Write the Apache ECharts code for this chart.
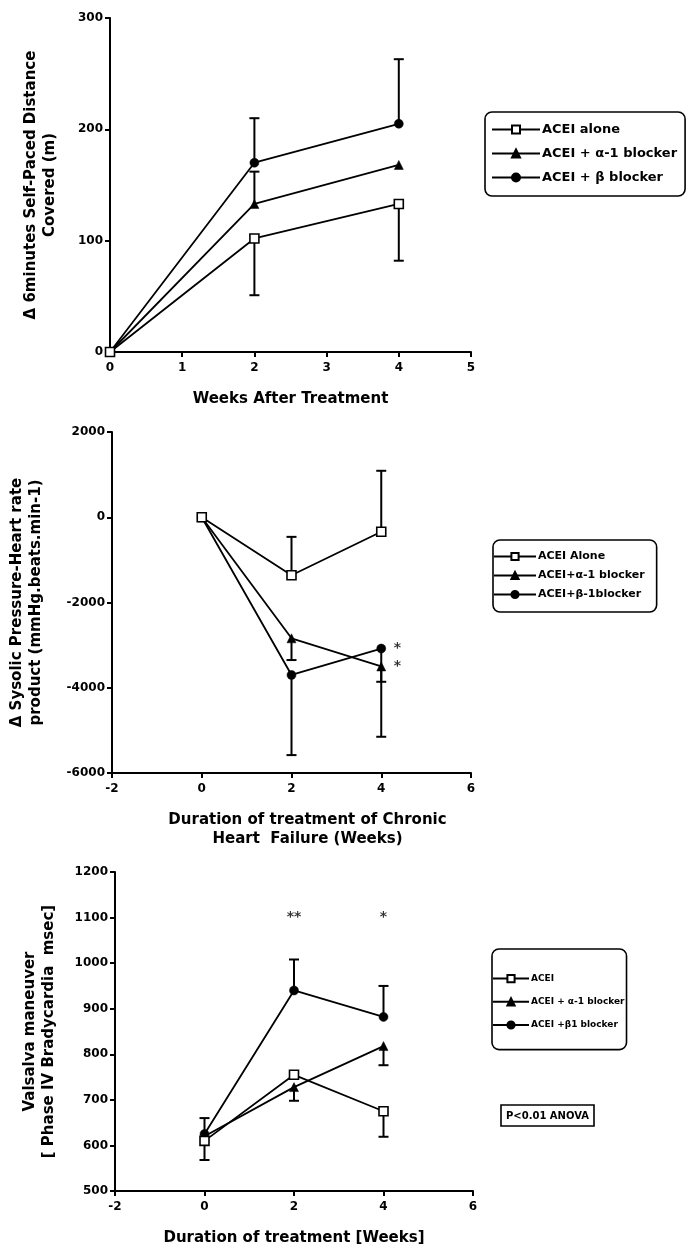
<!DOCTYPE html>
<html>
<head>
<meta charset="utf-8">
<script src="https://cdn.jsdelivr.net/npm/echarts@6/dist/echarts.min.js"></script>
<style>
html,body{margin:0;padding:0;background:#fff;}
#c{width:694px;height:1254px;}
</style>
</head>
<body>
<div id="c"></div>
<script>
// ---------- data ----------
const weeks = [0, 2, 4];

// Panel 1: 6-minute self-paced distance (m)
const p1Names = ['ACEI alone', 'ACEI + α-1 blocker', 'ACEI + β blocker'];
const p1Alone = [0, 102, 133];
const p1Alpha = [0, 133, 168];
const p1Beta  = [0, 170, 205];
const p1AloneErr = [0, -51, -51];
const p1AlphaErr = [0, 29, 0];
const p1BetaErr  = [0, 40, 58];

// Panel 2: systolic pressure-heart rate product
const p2Names = ['ACEI Alone', 'ACEI+α-1 blocker', 'ACEI+β-1blocker'];
const p2Alone = [0, -1360, -340];
const p2Alpha = [0, -2840, -3500];
const p2Beta  = [0, -3700, -3080];
const p2AloneErr = [0, 900, 1430];
const p2AlphaErr = [0, -510, -360];
const p2BetaErr  = [0, -1880, -2070];
const p2Stars = [[4, -3080, '*'], [4, -3500, '*']];

// Panel 3: Valsalva maneuver phase IV bradycardia (msec)
const p3Names = ['ACEI', 'ACEI + α-1 blocker', 'ACEI +β1 blocker'];
const p3Acei  = [610, 755, 675];
const p3Alpha = [620, 728, 818];
const p3Beta  = [625, 940, 882];
const p3AceiErr  = [-42, 0, -56];
const p3AlphaErr = [40, -30, -42];
const p3BetaErr  = [0, 68, 68];
const p3Stars = [[2, 1100, '**'], [4, 1100, '*']];

// ---------- helpers ----------
const FONT = 'DejaVu Sans';
const pairs = (vals) => weeks.map((w, i) => [w, vals[i]]);
const triples = (vals, errs) => weeks.map((w, i) => [w, vals[i], errs[i]]);

const markers = {
  square:   { symbol: 'rect', symbolSize: 9, itemStyle: { color: '#fff', borderColor: '#000', borderWidth: 1.6 } },
  triangle: { symbol: 'triangle', symbolSize: 9, itemStyle: { color: '#000', borderColor: '#000', borderWidth: 0.5 } },
  circle:   { symbol: 'circle', symbolSize: 9, itemStyle: { color: '#000', borderColor: '#000', borderWidth: 0.5 } }
};

function lineSeries(name, vals, mk, gi, z) {
  return Object.assign({
    type: 'line', name: name, xAxisIndex: gi, yAxisIndex: gi,
    data: pairs(vals), showAllSymbol: true, z: z || 3,
    lineStyle: { color: '#000', width: 1.8 },
    emphasis: { disabled: true }, animation: false
  }, JSON.parse(JSON.stringify(markers[mk])));
}

function errSeries(vals, errs, gi) {
  return {
    type: 'custom', xAxisIndex: gi, yAxisIndex: gi, silent: true, z: 2,
    data: triples(vals, errs), encode: { x: 0, y: 1 }, animation: false,
    renderItem: function (params, api) {
      const x = api.value(0), y = api.value(1), e = api.value(2);
      if (!e) return null;
      const p0 = api.coord([x, y]);
      const p1 = api.coord([x, y + e]);
      const cap = 5;
      return {
        type: 'group', children: [
          { type: 'line', shape: { x1: p0[0], y1: p0[1], x2: p1[0], y2: p1[1] }, style: { stroke: '#000', lineWidth: 2 } },
          { type: 'line', shape: { x1: p1[0] - cap, y1: p1[1], x2: p1[0] + cap, y2: p1[1] }, style: { stroke: '#000', lineWidth: 2 } }
        ]
      };
    }
  };
}

function starSeries(items, gi, pos, dist) {
  return {
    type: 'scatter', xAxisIndex: gi, yAxisIndex: gi, symbolSize: 1, silent: true,
    itemStyle: { color: 'rgba(0,0,0,0)' }, animation: false, z: 5,
    data: items.map(d => ({ value: [d[0], d[1]], name: d[2] })),
    label: { show: true, position: pos, distance: dist, formatter: p => p.name,
             fontFamily: FONT, fontWeight: 'bold', fontSize: 14, color: '#000' }
  };
}

const axisLine = { show: true, onZero: false, lineStyle: { color: '#000', width: 2 } };
const axisTick = { show: true, length: 5, lineStyle: { color: '#000', width: 2 } };
const tickLabel = (m) => ({ fontFamily: FONT, fontWeight: 'bold', fontSize: 12, color: '#000', margin: m,
                            formatter: v => String(v) });
const nameStyle = (sz, pad) => ({ fontFamily: FONT, fontWeight: 'bold', fontSize: sz, color: '#000', lineHeight: sz + 4, padding: pad || 0 });

function xAx(gi, min, max, interval, name, gap, pad) {
  return {
    type: 'value', gridIndex: gi, min: min, max: max, interval: interval,
    axisLine: axisLine, axisTick: axisTick, splitLine: { show: false },
    axisLabel: tickLabel(10),
    name: name, nameLocation: 'middle', nameGap: gap, nameTextStyle: nameStyle(15, pad)
  };
}
function yAx(gi, min, max, interval, name, gap, sz) {
  return {
    type: 'value', gridIndex: gi, min: min, max: max, interval: interval,
    axisLine: axisLine, axisTick: axisTick, splitLine: { show: false },
    axisLabel: tickLabel(7),
    name: name, nameLocation: 'middle', nameGap: gap, nameTextStyle: nameStyle(sz)
  };
}

function legend(names, left, top, fs, pad, gap, iw, ih) {
  return {
    orient: 'vertical', left: left, top: top,
    data: names, selectedMode: false,
    padding: pad, itemGap: gap, itemWidth: iw, itemHeight: ih,
    borderColor: '#000', borderWidth: 1.6, borderRadius: 7,
    textStyle: { fontFamily: FONT, fontWeight: 'bold', fontSize: fs, color: '#000', padding: [0, 0, 0, -3] }
  };
}

const option = {
  backgroundColor: '#fff',
  animation: false,
  title: [{
    text: 'P<0.01 ANOVA', left: 501, top: 1105,
    borderColor: '#000', borderWidth: 1.6, padding: [6, 5, 5, 5],
    textStyle: { fontFamily: FONT, fontWeight: 'bold', fontSize: 10, color: '#000' }
  }],
  grid: [
    { left: 110, top: 18, width: 361, height: 334 },
    { left: 112, top: 432, width: 359, height: 341 },
    { left: 115, top: 872, width: 358, height: 319 }
  ],
  xAxis: [
    xAx(0, 0, 5, 1, 'Weeks After Treatment', 38),
    xAx(1, -2, 6, 2, 'Duration of treatment of Chronic\nHeart  Failure (Weeks)', 38, [0, 0, 0, 32]),
    xAx(2, -2, 6, 2, 'Duration of treatment [Weeks]', 38)
  ],
  yAxis: [
    yAx(0, 0, 300, 100, 'Δ 6minutes Self-Paced Distance\nCovered (m)', 50, 15),
    yAx(1, -6000, 2000, 2000, 'Δ Sysolic Pressure-Heart rate\nproduct (mmHg.beats.min-1)', 66, 15),
    yAx(2, 500, 1200, 100, 'Valsalva maneuver\n[ Phase IV Bradycardia  msec]', 56, 15)
  ],
  legend: [
    legend(p1Names, 485, 112, 13, [11, 8, 12, 6], 11, 48, 10),
    legend(p2Names, 493, 540, 11, [11, 12, 12, 0], 8, 42, 9),
    legend(p3Names, 492, 949, 9, [25, 2, 20, 0], 14, 36, 9)
  ],
  series: [
    errSeries(p1Alone, p1AloneErr, 0),
    errSeries(p1Alpha, p1AlphaErr, 0),
    errSeries(p1Beta, p1BetaErr, 0),
    lineSeries(p1Names[1], p1Alpha, 'triangle', 0, 3),
    lineSeries(p1Names[2], p1Beta, 'circle', 0, 3),
    lineSeries(p1Names[0], p1Alone, 'square', 0, 4),

    errSeries(p2Alone, p2AloneErr, 1),
    errSeries(p2Alpha, p2AlphaErr, 1),
    errSeries(p2Beta, p2BetaErr, 1),
    lineSeries(p2Names[1], p2Alpha, 'triangle', 1, 3),
    lineSeries(p2Names[2], p2Beta, 'circle', 1, 3),
    lineSeries(p2Names[0], p2Alone, 'square', 1, 4),
    starSeries(p2Stars, 1, 'right', 12),

    errSeries(p3Acei, p3AceiErr, 2),
    errSeries(p3Alpha, p3AlphaErr, 2),
    errSeries(p3Beta, p3BetaErr, 2),
    lineSeries(p3Names[1], p3Alpha, 'triangle', 2, 3),
    lineSeries(p3Names[2], p3Beta, 'circle', 2, 3),
    lineSeries(p3Names[0], p3Acei, 'square', 2, 4),
    starSeries(p3Stars, 2, 'inside', 0)
  ]
};

const chart = echarts.init(document.getElementById('c'), null, { renderer: 'canvas' });
chart.setOption(option);
</script>
</body>
</html>
